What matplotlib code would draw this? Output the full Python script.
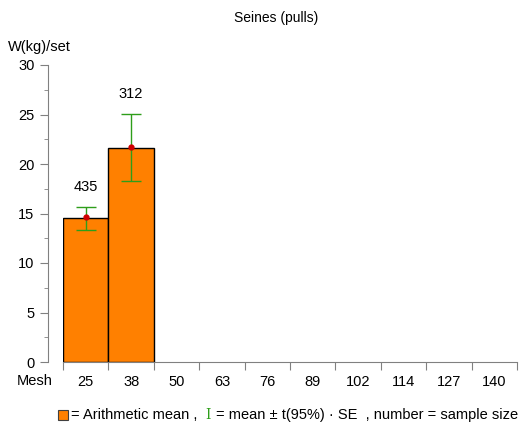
import numpy as np
import matplotlib.pyplot as plt
from matplotlib.patches import Rectangle

plt.rcParams['font.family'] = ['Liberation Sans', 'DejaVu Sans']

# Mesh classes and catch per set
mesh = ["25", "38", "50", "63", "76", "89", "102", "114", "127", "140"]
mean_w = [14.5, 21.6]          # arithmetic mean W(kg)/set
dot_w = [14.6, 21.7]           # mean marker
ci_low = [13.3, 18.3]
ci_high = [15.7, 25.1]
n_obs = [435, 312]

W, H = 529, 425
fig = plt.figure(figsize=(W / 100, H / 100), dpi=100)
ax = fig.add_axes([63 / W, (H - 362) / H, (517 - 63) / W, (362 - 65) / H])

x = np.arange(len(mean_w)) + 0.5
ax.bar(x, mean_w, width=1.0, color="#FF8000", edgecolor="#000000", linewidth=1.0, zorder=2)
err = [np.array(mean_w) - np.array(ci_low), np.array(ci_high) - np.array(mean_w)]
ax.errorbar(x, mean_w, yerr=err, fmt="none", ecolor="#2E9E1A", elinewidth=1.0,
            capsize=7.2, capthick=1.0, zorder=3)
ax.plot(x, dot_w, "o", color="#D00000", markersize=3.5, zorder=4)
for xi, top, n in zip(x, ci_high, n_obs):
    ax.annotate(str(n), (xi, top), xytext=(0, 14), textcoords="offset points",
                ha="center", va="center", fontsize=10.5)

ax.set_xlim(0, len(mesh))
ax.set_ylim(0, 30)
ax.set_xticks(np.arange(len(mesh) + 1))
ax.set_xticklabels([])
ax.set_xticks(np.arange(len(mesh)) + 0.5, minor=True)
ax.set_xticklabels(mesh, minor=True)
ax.tick_params(axis="x", which="major", length=6, color="#808080")
ax.tick_params(axis="x", which="minor", length=0, pad=9, labelsize=10.5)
ax.set_yticks(np.arange(0, 31, 5))
ax.set_yticks(np.arange(2.5, 30, 5), minor=True)
ax.tick_params(axis="y", which="major", length=6, color="#808080", labelsize=10.5)
ax.tick_params(axis="y", which="minor", length=3, color="#808080")

for s in ["top", "right"]:
    ax.spines[s].set_visible(False)
ax.spines["left"].set_position(("outward", 11))
ax.spines["left"].set_color("#808080")
ax.spines["bottom"].set_color("#808080")

fig.text(276 / W, 1 - 18 / H, "Seines (pulls)", ha="center", va="center", fontsize=10)
fig.text(8 / W, 1 - 47 / H, "W(kg)/set", ha="left", va="center", fontsize=10.5)
fig.text(17 / W, 1 - 381 / H, "Mesh", ha="left", va="center", fontsize=10.5)

# legend line
ly = 1 - 415 / H
fig.patches.append(Rectangle((58 / W, 1 - 420 / H), 10 / W, 10 / H, transform=fig.transFigure,
                             facecolor="#FF8000", edgecolor="#404040", linewidth=0.8))
fig.text(71 / W, ly, "= Arithmetic mean ,", ha="left", va="center", fontsize=10.5)
fig.text(205 / W, ly, "I", ha="left", va="center", fontsize=10, color="#2E9E1A",
         family="DejaVu Serif")
fig.text(216 / W, ly, "= mean ± t(95%) · SE  , number = sample size", ha="left",
         va="center", fontsize=10.5)

fig.savefig("out.png", dpi=100)
